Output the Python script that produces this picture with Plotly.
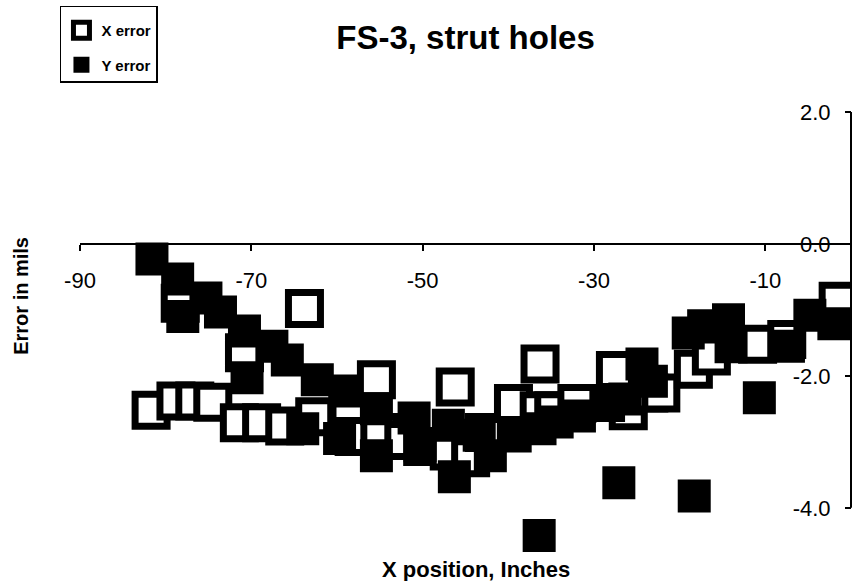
import plotly.graph_objects as go

# X error (hollow squares): hole x position (in) and error (mils)
x_err_pos = [-81.7, -78.8, -78.3, -76.6, -74.5, -71.4, -70.8, -68.8, -66.1, -63.8,
             -62.6, -58.6, -58.0, -55.4, -55.0, -52.2, -50.0, -46.9, -46.2, -44.4,
             -42.8, -39.4, -36.3, -36.4, -34.7, -32.0, -27.5, -26.0, -23.6, -22.2,
             -18.4, -16.3, -10.9, -7.5, -1.5]
x_err_val = [-2.52, -2.38, -0.90, -2.38, -2.40, -2.71, -1.65, -2.71, -2.76, -0.98,
             -2.62, -2.65, -2.92, -2.06, -2.86, -2.98, -3.07, -3.14, -2.17, -3.24,
             -2.86, -2.42, -1.82, -2.53, -2.53, -2.42, -1.92, -2.53, -2.26, -2.26,
             -1.90, -1.70, -1.52, -1.45, -0.87]

# Y error (filled squares)
y_err_pos = [-81.6, -78.6, -78.0, -75.3, -73.6, -70.8, -70.5, -67.6, -65.8, -64.0,
             -62.3, -59.7, -59.1, -55.4, -55.4, -51.0, -50.3, -47.0, -46.3, -43.4,
             -42.1, -39.2, -36.4, -36.3, -34.3, -31.7, -28.3, -27.1, -26.4, -24.4,
             -23.3, -19.0, -18.3, -17.2, -14.3, -14.0, -10.7, -7.3, -4.8, -2.0]
y_err_val = [-0.23, -0.53, -1.10, -0.82, -1.03, -1.32, -2.03, -1.55, -1.76, -2.80,
             -2.06, -2.95, -2.23, -3.21, -2.50, -2.64, -3.06, -2.75, -3.53, -2.90,
             -3.21, -2.91, -4.42, -2.80, -2.70, -2.61, -2.45, -3.62, -2.35, -1.82,
             -2.08, -1.35, -3.82, -1.24, -1.15, -1.56, -2.33, -1.55, -1.08, -1.21]

x_ticks = [-90, -70, -50, -30, -10]
x_tick_text = ["-90", "-70", "-50", "-30", "-10"]
y_ticks = [-4, -2, 0, 2]
y_tick_text = ["-4.0", "-2.0", "0.0", "2.0"]

# axis extents: the drawn y axis spans -4..2, the range leaves room below
Y_AXIS_MIN, Y_AXIS_MAX = -4, 2
Y_RANGE = [-4.7, 2.0]
X_RANGE = [-90, 0]

FONT = "Liberation Sans, Arial, sans-serif"


def y_frac(v):
    """Fraction of the plot height at which value v sits."""
    return (v - Y_RANGE[0]) / (Y_RANGE[1] - Y_RANGE[0])


fig = go.Figure()
# markers are clipped to the plot area so nothing spills past the page edge
fig.add_trace(go.Scatter(
    x=x_err_pos, y=x_err_val, mode="markers", name="X error",
    legendgroup="x", cliponaxis=True,
    marker=dict(symbol="square", size=32, color="white",
                line=dict(color="black", width=7)),
))
fig.add_trace(go.Scatter(
    x=y_err_pos, y=y_err_val, mode="markers", name="Y error",
    legendgroup="y", cliponaxis=True,
    marker=dict(symbol="square", size=33, color="black",
                line=dict(color="black", width=0)),
))

# vertical value axis line at the right edge (x = 0), limited to -4..2
fig.add_shape(type="line", xref="paper", yref="paper", x0=1, x1=1,
              y0=y_frac(Y_AXIS_MIN), y1=y_frac(Y_AXIS_MAX), layer="above",
              line=dict(color="black", width=2))

fig.update_layout(
    width=855, height=581, autosize=False,
    margin=dict(l=80, r=4, t=112, b=27),
    paper_bgcolor="white", plot_bgcolor="rgba(0,0,0,0)",
    font=dict(family=FONT, color="black"),
    title=dict(text="FS-3, strut holes", x=0.5, xref="paper",
               y=1 - 37 / 581, yref="container", yanchor="middle",
               font=dict(size=33, weight="bold")),
    showlegend=True,
    legend=dict(x=-0.026, y=1.24, xanchor="left", yanchor="top",
                bordercolor="black", borderwidth=1.5, bgcolor="white",
                font=dict(size=15, weight="bold"),
                title=dict(text=" ", font=dict(size=5)),
                traceorder="grouped", tracegroupgap=12),
    xaxis=dict(range=X_RANGE, tickvals=x_ticks, ticktext=x_tick_text,
               anchor="free", position=y_frac(0), showline=True,
               linecolor="black", linewidth=2,
               ticks="outside", ticklen=6, tickwidth=2, tickcolor="black",
               ticklabelstandoff=11, tickfont=dict(size=22),
               showgrid=False, zeroline=False, layer="below traces"),
    yaxis=dict(range=Y_RANGE, tickvals=y_ticks, ticktext=y_tick_text,
               anchor="free", position=1, side="left", showline=False,
               ticks="outside", ticklen=6, tickwidth=2, tickcolor="black",
               ticklabelstandoff=10, tickfont=dict(size=22),
               showgrid=False, zeroline=False, layer="above traces"),
    annotations=[
        dict(text="<b>X position, Inches</b>", x=0.5136, y=-0.034,
             xref="paper", yref="paper", showarrow=False,
             xanchor="center", yanchor="middle", font=dict(size=22)),
        dict(text="<b>Error in mils</b>", x=-0.076, y=0.585,
             xref="paper", yref="paper", showarrow=False, textangle=-90,
             xanchor="center", yanchor="middle", font=dict(size=20)),
    ],
)

fig.write_html("out.html")
